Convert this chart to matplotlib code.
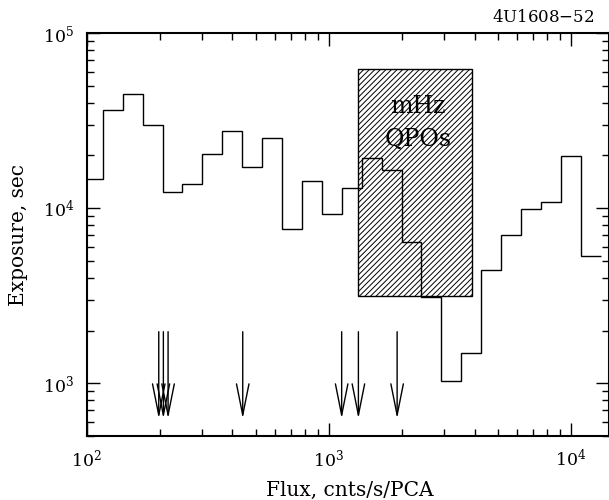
import matplotlib
matplotlib.use("Agg")
from matplotlib import pyplot as plt
from matplotlib.patches import Rectangle

plt.rcParams['font.family'] = ['DejaVu Serif']
plt.rcParams['mathtext.fontset'] = 'dejavuserif'
plt.rcParams['axes.formatter.use_mathtext'] = True
plt.rcParams['hatch.linewidth'] = 0.7

# histogram bin edges (flux) and exposure per bin
flux_edges = [96.3, 116.4, 140.7, 170.1, 205.6, 248.5, 300.3, 362.9, 438.6,
              530.1, 640.7, 774.5, 936.0, 1131, 1367, 1653, 1998, 2414, 2918,
              3527, 4263, 5152, 6228, 7527, 9097, 10995, 13289]
exposure = [14600, 36300, 45000, 30000, 12300, 13800, 20500, 27400, 17200,
            25100, 7590, 14200, 9200, 13100, 19400, 16600, 6400, 3100, 1030,
            1490, 4440, 6980, 9830, 10900, 19900, 5320]

# flux positions of the arrows
arrow_flux = [198.4, 207.3, 216.8, 441, 1130, 1325, 1915]
arrow_top = 1970
arrow_tip = 628

# mHz QPO region
qpo_flux = (1325, 3900)
qpo_exp = (3130, 62200)

fig = plt.figure(figsize=(6.09, 5.00), dpi=100)
ax = fig.add_axes([0.1424, 0.128, 0.858, 0.806])

ax.stairs(exposure, flux_edges, baseline=None, color='black', lw=1.0)

ax.add_patch(Rectangle((qpo_flux[0], qpo_exp[0]), qpo_flux[1] - qpo_flux[0],
                       qpo_exp[1] - qpo_exp[0], fill=False, hatch='//////',
                       edgecolor='black', lw=1.0))

ax.text(2340, 38100, 'mHz', ha='center', va='center', fontsize=17)
ax.text(2340, 24700, 'QPOs', ha='center', va='center', fontsize=17)

for fx in arrow_flux:
    ax.annotate('', xy=(fx, arrow_tip), xytext=(fx, arrow_top),
                arrowprops=dict(arrowstyle='->, head_length=1.5, head_width=0.3',
                                mutation_scale=15, lw=1.0, color='black',
                                shrinkA=0, shrinkB=0))

ax.set_xscale('log')
ax.set_yscale('log')
ax.set_xlim(100, 14400)
ax.set_ylim(500, 1e5)

ax.set_xlabel('Flux, cnts/s/PCA', fontsize=14.5)
ax.set_ylabel('Exposure, sec', fontsize=14.5)
ax.xaxis.set_label_coords(0.504, -0.112)
ax.yaxis.set_label_coords(-0.112, 0.5)

ax.tick_params(which='both', direction='in', top=True, right=True, width=1.0)
ax.tick_params(which='major', length=9.5, labelsize=12.5, pad=9)
ax.tick_params(which='minor', length=4.7)
for s in ax.spines.values():
    s.set_linewidth(1.5)

fig.text(0.976, 0.956, r'4U1608$-$52', ha='right', va='baseline', fontsize=12)

fig.savefig('out.png', dpi=100)
